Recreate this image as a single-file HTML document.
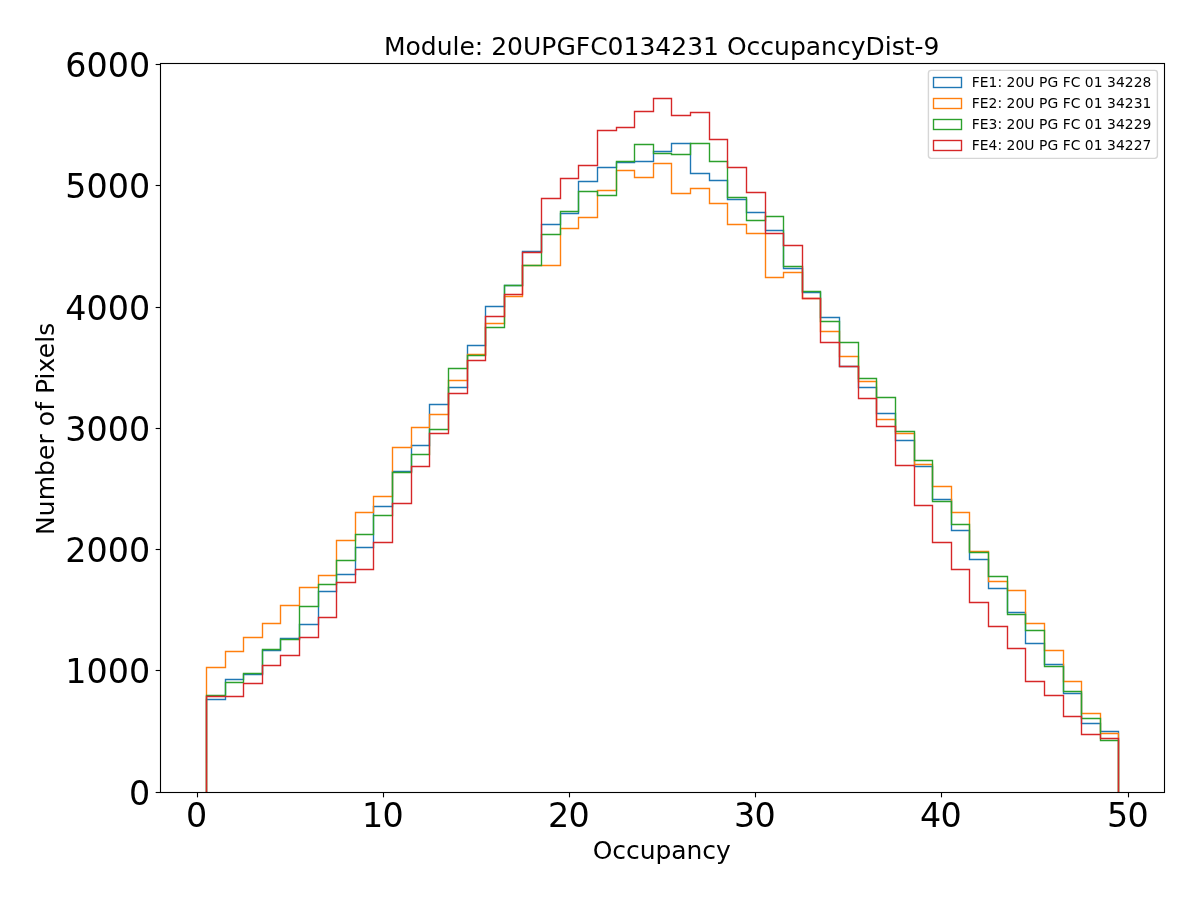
<!DOCTYPE html>
<html><head><meta charset="utf-8"><title>OccupancyDist</title>
<style>
html,body{margin:0;padding:0;background:#fff;}
svg{display:block;will-change:transform;font-family:"DejaVu Sans","Liberation Sans",sans-serif;fill:#000;}
</style></head><body>
<svg width="1200" height="900" viewBox="0 0 1200 900">
<rect x="0" y="0" width="1200" height="900" fill="#ffffff"/>
<defs><clipPath id="ax"><rect x="160" y="63" width="1004.5" height="729.5"/></clipPath></defs>
<g clip-path="url(#ax)" fill="none" stroke-width="1.39" stroke-linejoin="miter">
<path d="M206.5 792.5 L206.5 699.5 L225.5 699.5 L225.5 679.5 L243.5 679.5 L243.5 674.5 L262.5 674.5 L262.5 650.5 L280.5 650.5 L280.5 638.5 L299.5 638.5 L299.5 624.5 L318.5 624.5 L318.5 591.5 L336.5 591.5 L336.5 574.5 L355.5 574.5 L355.5 547.5 L373.5 547.5 L373.5 506.5 L392.5 506.5 L392.5 471.5 L411.5 471.5 L411.5 445.5 L429.5 445.5 L429.5 404.5 L448.5 404.5 L448.5 387.5 L467.5 387.5 L467.5 345.5 L485.5 345.5 L485.5 306.5 L504.5 306.5 L504.5 285.5 L522.5 285.5 L522.5 251.5 L541.5 251.5 L541.5 224.5 L560.5 224.5 L560.5 213.5 L578.5 213.5 L578.5 181.5 L597.5 181.5 L597.5 167.5 L616.5 167.5 L616.5 162.5 L634.5 162.5 L634.5 161.5 L653.5 161.5 L653.5 151.5 L671.5 151.5 L671.5 143.5 L690.5 143.5 L690.5 173.5 L709.5 173.5 L709.5 180.5 L727.5 180.5 L727.5 199.5 L746.5 199.5 L746.5 212.5 L765.5 212.5 L765.5 230.5 L783.5 230.5 L783.5 268.5 L802.5 268.5 L802.5 292.5 L820.5 292.5 L820.5 317.5 L839.5 317.5 L839.5 366.5 L858.5 366.5 L858.5 387.5 L876.5 387.5 L876.5 413.5 L895.5 413.5 L895.5 440.5 L914.5 440.5 L914.5 466.5 L932.5 466.5 L932.5 499.5 L951.5 499.5 L951.5 530.5 L969.5 530.5 L969.5 559.5 L988.5 559.5 L988.5 588.5 L1007.5 588.5 L1007.5 612.5 L1025.5 612.5 L1025.5 643.5 L1044.5 643.5 L1044.5 664.5 L1063.5 664.5 L1063.5 693.5 L1081.5 693.5 L1081.5 723.5 L1100.5 723.5 L1100.5 731.5 L1118.5 731.5 L1118.5 792.5" stroke="#1f77b4"/>
<path d="M206.5 792.5 L206.5 667.5 L225.5 667.5 L225.5 651.5 L243.5 651.5 L243.5 637.5 L262.5 637.5 L262.5 623.5 L280.5 623.5 L280.5 605.5 L299.5 605.5 L299.5 587.5 L318.5 587.5 L318.5 575.5 L336.5 575.5 L336.5 540.5 L355.5 540.5 L355.5 512.5 L373.5 512.5 L373.5 496.5 L392.5 496.5 L392.5 447.5 L411.5 447.5 L411.5 427.5 L429.5 427.5 L429.5 414.5 L448.5 414.5 L448.5 380.5 L467.5 380.5 L467.5 354.5 L485.5 354.5 L485.5 323.5 L504.5 323.5 L504.5 296.5 L522.5 296.5 L522.5 265.5 L541.5 265.5 L541.5 265.5 L560.5 265.5 L560.5 228.5 L578.5 228.5 L578.5 217.5 L597.5 217.5 L597.5 190.5 L616.5 190.5 L616.5 170.5 L634.5 170.5 L634.5 177.5 L653.5 177.5 L653.5 163.5 L671.5 163.5 L671.5 193.5 L690.5 193.5 L690.5 188.5 L709.5 188.5 L709.5 203.5 L727.5 203.5 L727.5 224.5 L746.5 224.5 L746.5 233.5 L765.5 233.5 L765.5 277.5 L783.5 277.5 L783.5 272.5 L802.5 272.5 L802.5 298.5 L820.5 298.5 L820.5 331.5 L839.5 331.5 L839.5 356.5 L858.5 356.5 L858.5 381.5 L876.5 381.5 L876.5 419.5 L895.5 419.5 L895.5 433.5 L914.5 433.5 L914.5 464.5 L932.5 464.5 L932.5 486.5 L951.5 486.5 L951.5 512.5 L969.5 512.5 L969.5 551.5 L988.5 551.5 L988.5 581.5 L1007.5 581.5 L1007.5 590.5 L1025.5 590.5 L1025.5 623.5 L1044.5 623.5 L1044.5 650.5 L1063.5 650.5 L1063.5 681.5 L1081.5 681.5 L1081.5 713.5 L1100.5 713.5 L1100.5 733.5 L1118.5 733.5 L1118.5 792.5" stroke="#ff7f0e"/>
<path d="M206.5 792.5 L206.5 695.5 L225.5 695.5 L225.5 682.5 L243.5 682.5 L243.5 673.5 L262.5 673.5 L262.5 649.5 L280.5 649.5 L280.5 639.5 L299.5 639.5 L299.5 606.5 L318.5 606.5 L318.5 584.5 L336.5 584.5 L336.5 560.5 L355.5 560.5 L355.5 534.5 L373.5 534.5 L373.5 515.5 L392.5 515.5 L392.5 472.5 L411.5 472.5 L411.5 454.5 L429.5 454.5 L429.5 429.5 L448.5 429.5 L448.5 368.5 L467.5 368.5 L467.5 355.5 L485.5 355.5 L485.5 327.5 L504.5 327.5 L504.5 285.5 L522.5 285.5 L522.5 265.5 L541.5 265.5 L541.5 234.5 L560.5 234.5 L560.5 211.5 L578.5 211.5 L578.5 191.5 L597.5 191.5 L597.5 195.5 L616.5 195.5 L616.5 161.5 L634.5 161.5 L634.5 144.5 L653.5 144.5 L653.5 153.5 L671.5 153.5 L671.5 154.5 L690.5 154.5 L690.5 143.5 L709.5 143.5 L709.5 161.5 L727.5 161.5 L727.5 197.5 L746.5 197.5 L746.5 220.5 L765.5 220.5 L765.5 216.5 L783.5 216.5 L783.5 266.5 L802.5 266.5 L802.5 291.5 L820.5 291.5 L820.5 321.5 L839.5 321.5 L839.5 342.5 L858.5 342.5 L858.5 378.5 L876.5 378.5 L876.5 397.5 L895.5 397.5 L895.5 431.5 L914.5 431.5 L914.5 460.5 L932.5 460.5 L932.5 501.5 L951.5 501.5 L951.5 524.5 L969.5 524.5 L969.5 552.5 L988.5 552.5 L988.5 576.5 L1007.5 576.5 L1007.5 614.5 L1025.5 614.5 L1025.5 630.5 L1044.5 630.5 L1044.5 666.5 L1063.5 666.5 L1063.5 691.5 L1081.5 691.5 L1081.5 718.5 L1100.5 718.5 L1100.5 740.5 L1118.5 740.5 L1118.5 792.5" stroke="#2ca02c"/>
<path d="M206.5 792.5 L206.5 696.5 L225.5 696.5 L225.5 696.5 L243.5 696.5 L243.5 683.5 L262.5 683.5 L262.5 665.5 L280.5 665.5 L280.5 655.5 L299.5 655.5 L299.5 637.5 L318.5 637.5 L318.5 617.5 L336.5 617.5 L336.5 582.5 L355.5 582.5 L355.5 569.5 L373.5 569.5 L373.5 542.5 L392.5 542.5 L392.5 503.5 L411.5 503.5 L411.5 466.5 L429.5 466.5 L429.5 433.5 L448.5 433.5 L448.5 393.5 L467.5 393.5 L467.5 360.5 L485.5 360.5 L485.5 316.5 L504.5 316.5 L504.5 294.5 L522.5 294.5 L522.5 252.5 L541.5 252.5 L541.5 198.5 L560.5 198.5 L560.5 178.5 L578.5 178.5 L578.5 165.5 L597.5 165.5 L597.5 130.5 L616.5 130.5 L616.5 127.5 L634.5 127.5 L634.5 111.5 L653.5 111.5 L653.5 98.5 L671.5 98.5 L671.5 115.5 L690.5 115.5 L690.5 112.5 L709.5 112.5 L709.5 139.5 L727.5 139.5 L727.5 167.5 L746.5 167.5 L746.5 192.5 L765.5 192.5 L765.5 233.5 L783.5 233.5 L783.5 245.5 L802.5 245.5 L802.5 298.5 L820.5 298.5 L820.5 342.5 L839.5 342.5 L839.5 366.5 L858.5 366.5 L858.5 398.5 L876.5 398.5 L876.5 426.5 L895.5 426.5 L895.5 465.5 L914.5 465.5 L914.5 505.5 L932.5 505.5 L932.5 542.5 L951.5 542.5 L951.5 569.5 L969.5 569.5 L969.5 602.5 L988.5 602.5 L988.5 626.5 L1007.5 626.5 L1007.5 648.5 L1025.5 648.5 L1025.5 681.5 L1044.5 681.5 L1044.5 695.5 L1063.5 695.5 L1063.5 716.5 L1081.5 716.5 L1081.5 734.5 L1100.5 734.5 L1100.5 738.5 L1118.5 738.5 L1118.5 792.5" stroke="#d62728"/>
</g>
<g stroke="#000" stroke-width="1.11" fill="none">
<path d="M197.5 792.5 V797.36"/>
<path d="M383.5 792.5 V797.36"/>
<path d="M569.5 792.5 V797.36"/>
<path d="M755.5 792.5 V797.36"/>
<path d="M941.5 792.5 V797.36"/>
<path d="M1128.5 792.5 V797.36"/>
<path d="M160.5 792.5 H155.64"/>
<path d="M160.5 670.5 H155.64"/>
<path d="M160.5 549.5 H155.64"/>
<path d="M160.5 428.5 H155.64"/>
<path d="M160.5 307.5 H155.64"/>
<path d="M160.5 185.5 H155.64"/>
<path d="M160.5 64.5 H155.64"/>
<rect x="160.5" y="63.5" width="1004" height="729"/>
</g>
<g font-size="33.33px">
<text x="196.6" y="826.6" text-anchor="middle">0</text>
<text x="382.5" y="826.6" text-anchor="middle" letter-spacing="-0.8">10</text>
<text x="568.5" y="826.6" text-anchor="middle" letter-spacing="-0.8">20</text>
<text x="754.5" y="826.6" text-anchor="middle" letter-spacing="-0.8">30</text>
<text x="940.5" y="826.6" text-anchor="middle" letter-spacing="-0.8">40</text>
<text x="1127.5" y="826.6" text-anchor="middle" letter-spacing="-0.8">50</text>
<text x="150.2" y="804.6" text-anchor="end">0</text>
<text x="150.2" y="682.6" text-anchor="end">1000</text>
<text x="150.2" y="561.6" text-anchor="end">2000</text>
<text x="150.2" y="440.6" text-anchor="end">3000</text>
<text x="150.2" y="319.6" text-anchor="end">4000</text>
<text x="150.2" y="197.6" text-anchor="end">5000</text>
<text x="150.2" y="76.6" text-anchor="end">6000</text>
</g>
<g font-size="25px">
<text x="661.7" y="55" text-anchor="middle">Module: 20UPGFC0134231 OccupancyDist-9</text>
<text x="661.7" y="859.4" text-anchor="middle" letter-spacing="-0.07">Occupancy</text>
<text transform="translate(54 428.9) rotate(-90)" text-anchor="middle" letter-spacing="0.06">Number of Pixels</text>
</g>
<rect x="928.4" y="70.4" width="229" height="88" rx="2.8" ry="2.8" fill="#ffffff" fill-opacity="0.8" stroke="#cccccc" stroke-opacity="0.8" stroke-width="1.39"/>
<g font-size="13.89px" letter-spacing="0.045">
<rect x="933.5" y="77.5" width="28" height="10" fill="none" stroke="#1f77b4" stroke-width="1.39"/>
<text x="971.7" y="87">FE1: 20U PG FC 01 34228</text>
<rect x="933.5" y="98.5" width="28" height="10" fill="none" stroke="#ff7f0e" stroke-width="1.39"/>
<text x="971.7" y="108">FE2: 20U PG FC 01 34231</text>
<rect x="933.5" y="119.5" width="28" height="10" fill="none" stroke="#2ca02c" stroke-width="1.39"/>
<text x="971.7" y="129">FE3: 20U PG FC 01 34229</text>
<rect x="933.5" y="140.5" width="28" height="10" fill="none" stroke="#d62728" stroke-width="1.39"/>
<text x="971.7" y="150">FE4: 20U PG FC 01 34227</text>
</g>
</svg></body></html>
